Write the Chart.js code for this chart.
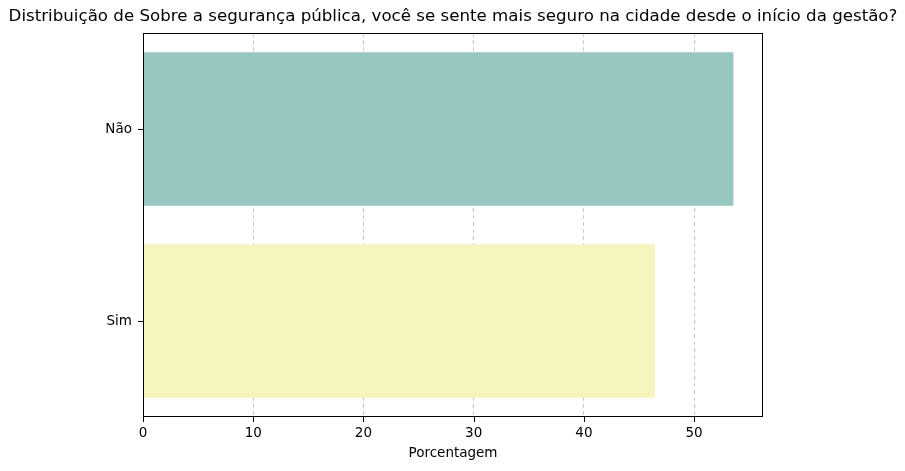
<!DOCTYPE html>
<html>
<head>
<meta charset="utf-8">
<script src="https://cdn.jsdelivr.net/npm/chart.js@4"></script>
<style>
    html, body { margin: 0; padding: 0; background: #ffffff; }
    #wrap { width: 905px; height: 471px; }
</style>
</head>
<body>
<div id="wrap"><canvas id="surveyChart" width="905" height="471"></canvas></div>
<script>

/*
------------------------------------------------------------
dados
------------------------------------------------------------
*/

const categories = ["Não", "Sim"];

const percentages = [53.57, 46.43];

const barColors = ["#97c8bf", "#f5f5bd"];

const xTicks = [0, 10, 20, 30, 40, 50];

const chartTitle =
    "Distribuição de Sobre a segurança pública, você se sente mais seguro na cidade desde o início da gestão?";

const FONT = "'DejaVu Sans', sans-serif";

/*
------------------------------------------------------------
moldura, marcas dos ticks e título
------------------------------------------------------------
*/

const framePlugin = {

    id: "frame",

    afterDraw(chart) {

        const { ctx, chartArea, scales } = chart;

        ctx.save();

        ctx.strokeStyle = "#000000";
        ctx.lineWidth = 1;

        ctx.strokeRect(
            Math.round(chartArea.left) + 0.5,
            Math.round(chartArea.top) + 0.5,
            Math.round(chartArea.right - chartArea.left) - 1,
            Math.round(chartArea.bottom - chartArea.top) - 1
        );

        ctx.beginPath();

        xTicks.forEach(v => {
            const x = Math.round(scales.x.getPixelForValue(v)) + 0.5;
            ctx.moveTo(x, chartArea.bottom);
            ctx.lineTo(x, chartArea.bottom + 5);
        });

        categories.forEach((c, i) => {
            const y = Math.round(scales.y.getPixelForValue(i)) + 0.5;
            ctx.moveTo(chartArea.left, y);
            ctx.lineTo(chartArea.left - 5, y);
        });

        ctx.stroke();

        // título centrado sobre a área do gráfico
        ctx.fillStyle = "#000000";
        ctx.font = "16.67px " + FONT;
        ctx.textAlign = "center";
        ctx.textBaseline = "middle";
        ctx.fillText(
            chartTitle,
            (chartArea.left + chartArea.right) / 2,
            17
        );

        ctx.restore();

    }

};

/*
------------------------------------------------------------
gráfico
------------------------------------------------------------
*/

new Chart(document.getElementById("surveyChart"), {

    type: "bar",

    data: {

        labels: categories,

        datasets: [

            {

                data: percentages,

                backgroundColor: barColors,

                borderWidth: 0,

                barPercentage: 0.8,

                categoryPercentage: 1.0

            }

        ]

    },

    options: {

        indexAxis: "y",

        responsive: false,

        animation: false,

        layout: {

            padding: { top: 33, right: 142, bottom: 0, left: 0 }

        },

        plugins: {

            legend: { display: false },

            tooltip: { enabled: false },

            title: { display: false }

        },

        scales: {

            x: {

                min: 0,

                max: 56.25,

                afterBuildTicks(scale) {
                    scale.ticks = xTicks.map(v => ({ value: v }));
                },

                afterFit(scale) {
                    scale.height = 54;
                },

                grid: {

                    color: "rgba(176,176,176,0.7)",

                    drawTicks: false

                },

                border: { display: false, dash: [4, 3] },

                ticks: {

                    color: "#000000",

                    font: { family: FONT, size: 13.5 },

                    padding: 8

                },

                title: {

                    display: true,

                    text: "Porcentagem",

                    color: "#000000",

                    font: { family: FONT, size: 13.5 },

                    padding: { top: 2, bottom: 9 }

                }

            },

            y: {

                afterFit(scale) {
                    scale.width = 143;
                },

                grid: { display: false },

                border: { display: false },

                ticks: {

                    color: "#000000",

                    font: { family: FONT, size: 13.5 },

                    padding: 3

                }

            }

        }

    },

    plugins: [framePlugin]

});

</script>
</body>
</html>
